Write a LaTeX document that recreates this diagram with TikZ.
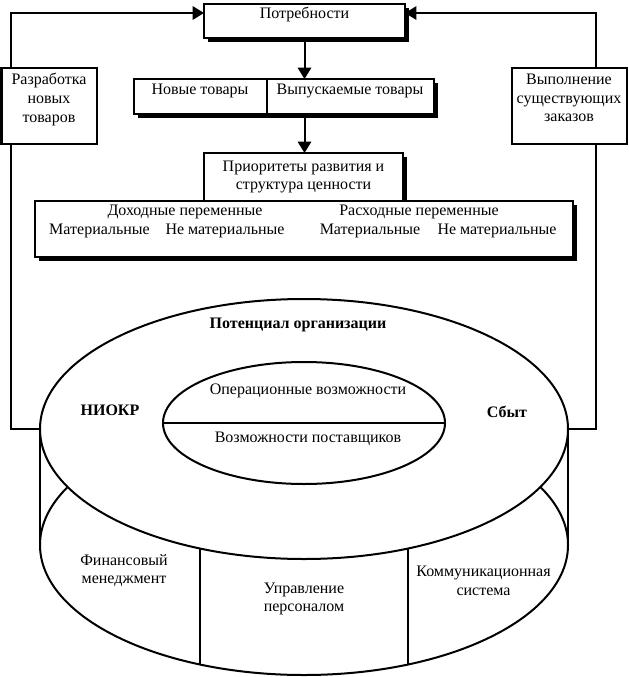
\documentclass[tikz,border=0pt]{standalone}
\usepackage{fontspec}
\setmainfont{Liberation Serif}
\usepackage{tikz}
\usetikzlibrary{positioning,shapes.geometric,shadows,arrows.meta}

\tikzset{
  ln/.style={line width=1.5pt},
  box/.style={ln, draw, fill=white, inner sep=0pt, outer sep=0pt, align=center},
  shbox/.style={box, drop shadow={shadow xshift=3pt, shadow yshift=-3pt, opacity=1, fill=black}},
  oval/.style={ellipse, ln, draw, inner sep=0pt, outer sep=0pt},
  arr/.style={ln, -{Triangle[length=8.5pt,width=10pt]}},
  bold/.style={font=\bfseries}
}

\begin{document}
\fontsize{12}{13.9}\selectfont
\begin{tikzpicture}[x=0.75pt, y=-0.75pt]
\useasboundingbox (0,0) rectangle (628,677);
% top part
\node[shbox, minimum width=150.75pt, minimum height=25.5pt, text depth=11.6pt] (need) at (304.5,21) {Потребности};
\node[shbox, minimum width=99.75pt, minimum height=26.25pt, text depth=10.9pt] (newp) at (200,96.5) {Новые товары};
\node[shbox, minimum width=125.25pt, minimum height=26.25pt, text depth=10.9pt, right=0pt of newp] (curp) {Выпускаемые товары};
\node[shbox, minimum width=149.25pt, minimum height=36pt] (prio) at (303.5,177) {Приоритеты развития и\\структура ценности};
\node[shbox, minimum width=403.5pt, minimum height=41.25pt] (vars) at (303.5,229) {};
\node (inc) at (185,212) {Доходные переменные};
\node (exp) at (419,212) {Расходные переменные};
\node (mat1) at (99.5,231) {Материальные};
\node (imm1) at (225,231) {Не материальные};
\node (mat2) at (370,231) {Материальные};
\node (imm2) at (497,231) {Не материальные};
\node[box, minimum width=71.25pt, minimum height=57pt, text depth=13.1pt] (dev) at (49,106.5) {Разработка\\новых\\товаров};
\node[box, minimum width=86.25pt, minimum height=57pt, text depth=13.1pt] (exec) at (569,106.5) {Выполнение\\существующих\\заказов};
\draw[arr] (need) -- (need |- curp.north);
\draw[arr] (need |- curp.south) -- (need |- prio.north);

% potential of the organisation
\node[oval, minimum width=396pt, minimum height=195pt] (base) at (304,545) {};
\node[oval, fill=white, minimum width=396pt, minimum height=195pt] (ring) at (304,429) {};
\draw[ln] (ring.west) -- (base.west) (ring.east) -- (base.east);
\node[oval, minimum width=211.5pt, minimum height=91.5pt] (core) at (304,423) {};
\draw[ln] (core.west) -- (core.east);
\draw[ln] (200,548.5) -- (200,664.5) (408,548.5) -- (408,664.5);
\node[bold] (pot) at (298,325) {Потенциал организации};
\node[bold] (rnd) at (110,410) {НИОКР};
\node[bold] (sale) at (507,412) {Сбыт};
\node (ops) at (308,391) {Операционные возможности};
\node (sup) at (308,439) {Возможности поставщиков};
\node[align=center] (fin) at (124,570.5) {Финансовый\\менеджмент};
\node[align=center] (hr) at (304,599) {Управление\\персоналом};
\node[align=center] (com) at (483.5,581) {Коммуникационная\\система};

% feedback loops
\coordinate (lx) at (11,13);
\coordinate (rx) at (596,13);
\draw[ln] (ring.west) -| (dev.south -| lx);
\draw[arr] (dev.north -| lx) |- (need.west |- lx);
\draw[ln] (ring.east) -| (exec.south -| rx);
\draw[arr] (exec.north -| rx) |- (need.east |- rx);
\end{tikzpicture}
\end{document}
